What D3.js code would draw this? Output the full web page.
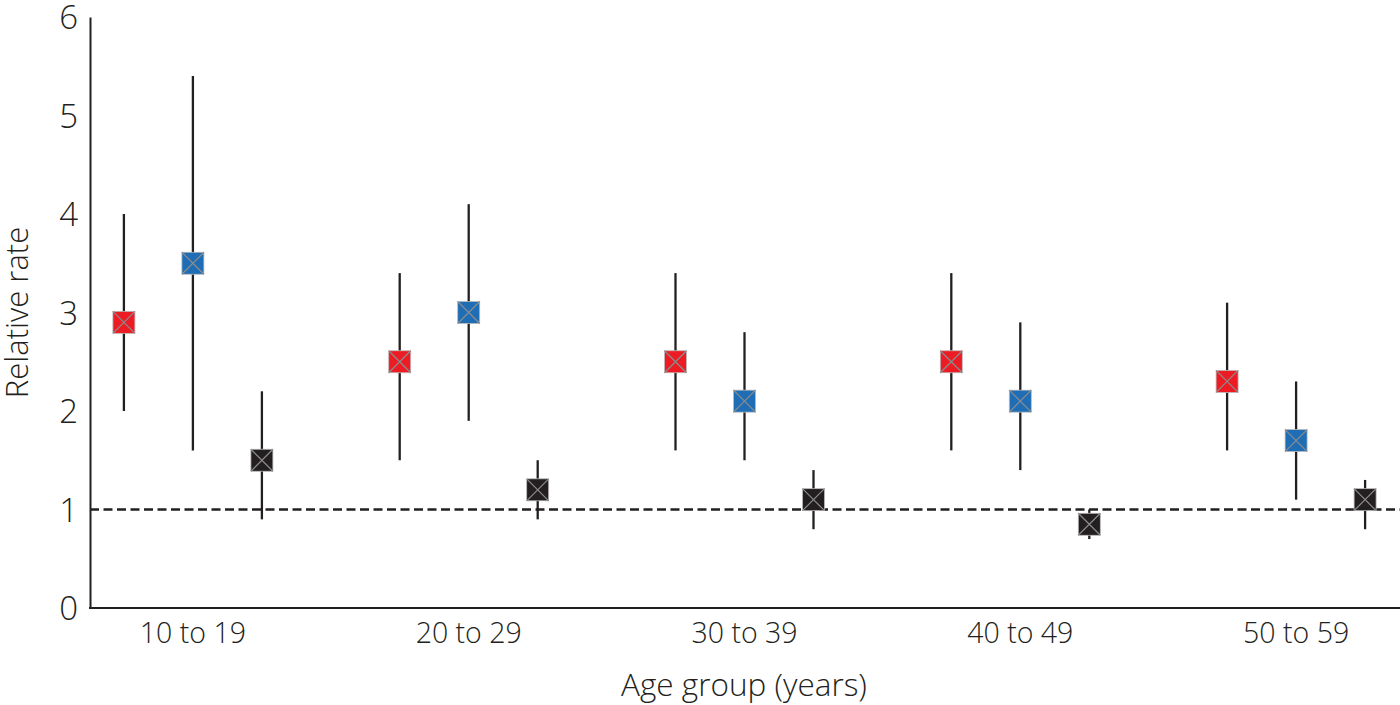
<!DOCTYPE html>
<html>
<head>
<meta charset="utf-8">
<script src="https://cdn.jsdelivr.net/npm/d3@7"></script>
<style>
  html, body { margin: 0; padding: 0; background: #fff; }
  svg { display: block; }
  text { font-family: "Open Sans", "Noto Sans", sans-serif; font-weight: 300; fill: #231f20; }
</style>
</head>
<body>
<svg id="chart" width="1400" height="705"></svg>
<script>
const ageGroups = ["10 to 19", "20 to 29", "30 to 39", "40 to 49", "50 to 59"];
const seriesNames = ["red", "blue", "black"];
const seriesColors = ["#ed1c24", "#1f6db5", "#231f20"];
// point estimates and interval bounds per series, in age-group order
const redValues   = [2.9, 2.5, 2.5, 2.5, 2.3];
const redLow      = [2.0, 1.5, 1.6, 1.6, 1.6];
const redHigh     = [4.0, 3.4, 3.4, 3.4, 3.1];
const blueValues  = [3.5, 3.0, 2.1, 2.1, 1.7];
const blueLow     = [1.6, 1.9, 1.5, 1.4, 1.1];
const blueHigh    = [5.4, 4.1, 2.8, 2.9, 2.3];
const blackValues = [1.5, 1.2, 1.1, 0.85, 1.1];
const blackLow    = [0.9, 0.9, 0.8, 0.7, 0.8];
const blackHigh   = [2.2, 1.5, 1.4, 1.0, 1.3];
const yTicks = [0, 1, 2, 3, 4, 5, 6];
const referenceValue = 1;

const seriesData = [
  { name: "red", values: redValues, low: redLow, high: redHigh },
  { name: "blue", values: blueValues, low: blueLow, high: blueHigh },
  { name: "black", values: blackValues, low: blackLow, high: blackHigh }
];

const points = [];
seriesData.forEach(s => {
  ageGroups.forEach((g, i) => {
    points.push({ group: g, series: s.name, v: s.values[i], lo: s.low[i], hi: s.high[i] });
  });
});

const svg = d3.select("#chart");
const axisLeftX = 90, axisRightX = 1400;
const yBottom = 608, yTop = 17;

const x = d3.scaleBand().domain(ageGroups).range([55, 1434]).padding(0);
const xInner = d3.scalePoint().domain(seriesNames).range([-69, 69]);
const color = d3.scaleOrdinal().domain(seriesNames).range(seriesColors);
const y = d3.scaleLinear().domain([0, 6]).range([yBottom, yTop]);

const cx = d => x(d.group) + x.bandwidth() / 2 + xInner(d.series);

// reference dashed line
svg.append("line")
  .attr("x1", axisLeftX).attr("x2", axisRightX)
  .attr("y1", y(referenceValue)).attr("y2", y(referenceValue))
  .attr("stroke", "#231f20").attr("stroke-width", 2.5)
  .attr("stroke-dasharray", "9,4.5");

// y axis
const yAxis = d3.axisLeft(y).tickValues(yTicks).tickSize(0).tickPadding(12).tickFormat(d3.format("d"));
const gy = svg.append("g").attr("transform", `translate(${axisLeftX},0)`).call(yAxis);
gy.select(".domain").attr("stroke", "#231f20").attr("stroke-width", 2);
gy.selectAll("text").style("font-size", "33px").attr("fill", "#231f20").attr("dy", "0.36em");

// x axis
const xAxis = d3.axisBottom(x).tickSize(0).tickPadding(15);
const gx = svg.append("g").attr("transform", `translate(0,${yBottom})`).call(xAxis);
gx.select(".domain").remove();
gx.selectAll("text").style("font-size", "28.5px").attr("fill", "#231f20");
svg.append("line")
  .attr("x1", axisLeftX - 1).attr("x2", axisRightX)
  .attr("y1", yBottom).attr("y2", yBottom)
  .attr("stroke", "#231f20").attr("stroke-width", 2);

// axis titles
svg.append("text")
  .attr("x", 744).attr("y", 696)
  .attr("text-anchor", "middle")
  .style("font-size", "31.5px")
  .text("Age group (years)");
svg.append("text")
  .attr("transform", `translate(28,${y(3)}) rotate(-90)`)
  .attr("text-anchor", "middle")
  .style("font-size", "31px")
  .text("Relative rate");

// error bars
svg.append("g").selectAll("line").data(points).join("line")
  .attr("x1", cx).attr("x2", cx)
  .attr("y1", d => y(d.lo)).attr("y2", d => y(d.hi))
  .attr("stroke", "#231f20").attr("stroke-width", 2.3);

// markers
const s = 22;
const m = svg.append("g").selectAll("g").data(points).join("g")
  .attr("transform", d => `translate(${cx(d)},${y(d.v)})`);
m.append("rect")
  .attr("x", -s / 2).attr("y", -s / 2).attr("width", s).attr("height", s)
  .attr("fill", d => color(d.series))
  .attr("stroke", "#bbbbbb").attr("stroke-width", 0.8);
m.append("path")
  .attr("d", `M${-s/2},${-s/2}L${s/2},${s/2}M${s/2},${-s/2}L${-s/2},${s/2}`)
  .attr("stroke", "#8c8c8c").attr("stroke-width", 1.2).attr("fill", "none");
</script>
</body>
</html>
